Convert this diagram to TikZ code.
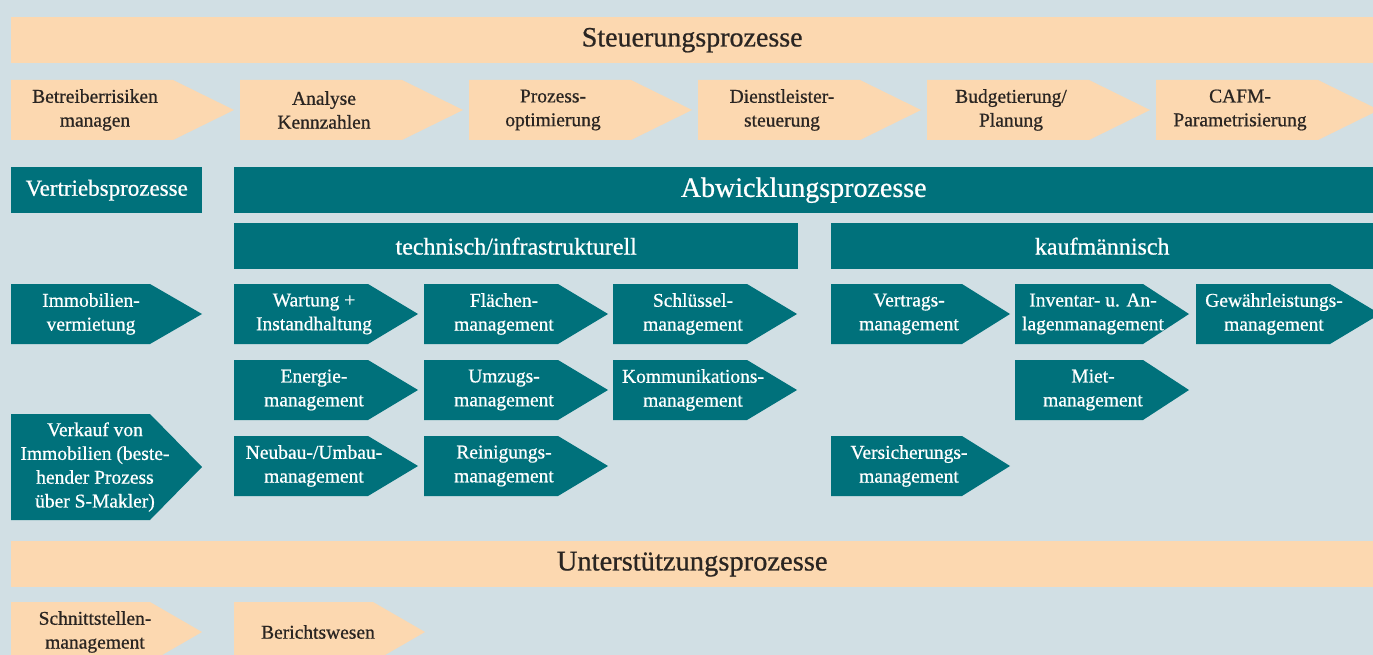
\documentclass[tikz,border=0pt]{standalone}
\usepackage{fontspec}
\setmainfont{Liberation Serif}[FakeBold=0.7]
\definecolor{bgc}{HTML}{D1DFE4}
\definecolor{peach}{HTML}{FCD8B0}
\definecolor{tealbox}{HTML}{00717B}
\definecolor{darktext}{HTML}{2A2522}
\tikzset{
  chevtext/.style={inner sep=0pt, align=center, font=\fontsize{19.5}{23.8}\selectfont},
  hbar/.style={anchor=north west, inner sep=0pt, minimum height=46pt},
  bigfont/.style={font=\fontsize{28}{32}\selectfont},
  midfont/.style={font=\fontsize{24}{28}\selectfont},
  peachbar/.style={hbar, fill=peach, text=darktext},
  tealbar/.style={hbar, fill=tealbox, text=white},
}
\def\choff{84}
% #1 name, #2 x, #3 y, #4 rect width, #5 tip, #6 height, #7 fill, #8 text colour, #9 text
\newcommand\chev[9]{%
  \fill[#7] (#2,#3) -- (#2+#4,#3) -- (#2+#4+#5,#3+#6/2) -- (#2+#4,#3+#6) -- (#2,#3+#6) -- cycle;
  \node[chevtext, text=#8] (#1) at (#2+\choff,#3+#6/2) {#9};
}
\begin{document}
\begin{tikzpicture}[x=1pt,y=-1pt]
\useasboundingbox (0,0) rectangle (1373,655);
\fill[bgc] (0,0) rectangle (1373,655);

% Steuerung
\node[peachbar, bigfont, minimum width=1362pt] (steu) at (11,17) {Steuerungsprozesse};
\def\choff{84}
\chev{s1}{11}{80}{162}{61}{60}{peach}{darktext}{Betreiberrisiken\\managen}
\chev{s2}{240}{80}{162}{61}{60}{peach}{darktext}{Analyse\\Kennzahlen}
\chev{s3}{469}{80}{162}{61}{60}{peach}{darktext}{Prozess-\\optimierung}
\chev{s4}{698}{80}{162}{61}{60}{peach}{darktext}{Dienstleister-\\steuerung}
\chev{s5}{927}{80}{162}{61}{60}{peach}{darktext}{Budgetierung/\\Planung}
\chev{s6}{1156}{80}{162}{61}{60}{peach}{darktext}{CAFM-\\Parametrisierung}

% Vertrieb / Abwicklung
\node[tealbar, font=\fontsize{23}{27}\selectfont, minimum width=191pt] (vert) at (11,167) {Vertriebsprozesse};
\node[tealbar, bigfont, minimum width=1139pt] (abw) at (234,167) {Abwicklungsprozesse};
\node[tealbar, midfont, minimum width=564pt] (tech) at (234,223) {technisch/infrastrukturell};
\node[tealbar, midfont, minimum width=542pt] (kauf) at (831,223) {kaufmännisch};

\def\choff{80}
\chev{v1}{11}{284}{139}{52}{60}{tealbox}{white}{Immobilien-\\vermietung}
\fill[tealbox] (11,414) -- (150,414) -- (202,467) -- (150,520) -- (11,520) -- cycle;
\node[chevtext, text=white] (v2) at (95,467) {Verkauf von\\Immobilien (beste-\\hender Prozess\\über S-Makler)};

\chev{t1}{234}{284}{134}{50}{60}{tealbox}{white}{Wartung +\\Instandhaltung}
\chev{t2}{424}{284}{134}{50}{60}{tealbox}{white}{Flächen-\\management}
\chev{t3}{613}{284}{134}{50}{60}{tealbox}{white}{Schlüssel-\\management}
\chev{t4}{234}{360}{134}{50}{60}{tealbox}{white}{Energie-\\management}
\chev{t5}{424}{360}{134}{50}{60}{tealbox}{white}{Umzugs-\\management}
\chev{t6}{613}{360}{134}{50}{60}{tealbox}{white}{Kommunikations-\\management}
\chev{t7}{234}{436}{134}{50}{60}{tealbox}{white}{Neubau-/Umbau-\\management}
\chev{t8}{424}{436}{134}{50}{60}{tealbox}{white}{Reinigungs-\\management}

\def\choff{78}
\chev{k1}{831}{284}{131}{48}{60}{tealbox}{white}{Vertrags-\\management}
\chev{k2}{1015}{284}{128}{46}{60}{tealbox}{white}{Inventar- u. An-\\lagenmanagement}
\chev{k3}{1196}{284}{134}{50}{60}{tealbox}{white}{Gewährleistungs-\\management}
\chev{k4}{1015}{360}{128}{46}{60}{tealbox}{white}{Miet-\\management}
\chev{k5}{831}{436}{131}{48}{60}{tealbox}{white}{Versicherungs-\\management}

% Unterstuetzung
\node[peachbar, font=\fontsize{28.5}{32}\selectfont, minimum width=1362pt] (unt) at (11,541) {Unterstützungsprozesse};
\def\choff{84}
\chev{u1}{11}{602}{139}{52}{60}{peach}{darktext}{Schnittstellen-\\management}
\chev{u2}{234}{602}{139}{52}{60}{peach}{darktext}{Berichtswesen}
\end{tikzpicture}
\end{document}
